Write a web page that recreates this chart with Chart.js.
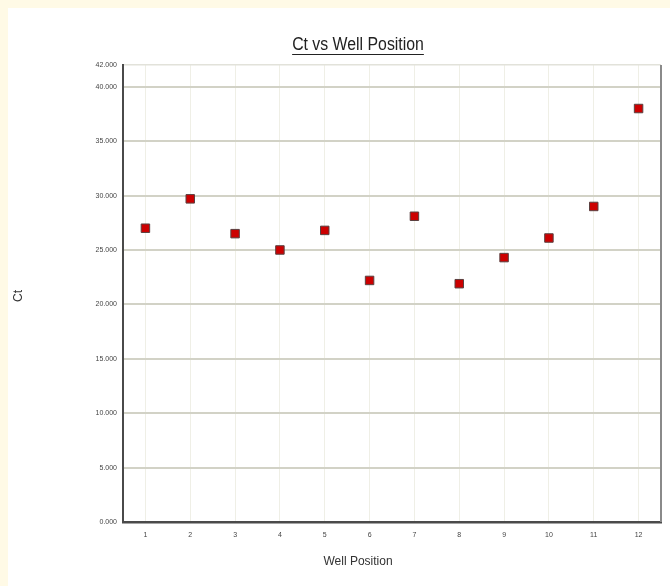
<!DOCTYPE html>
<html><head><meta charset="utf-8">
<script src="https://cdn.jsdelivr.net/npm/chart.js@4.4.0/dist/chart.umd.min.js"></script>
<style>
html,body{margin:0;padding:0;background:#fffae6;}
canvas{display:block;}
</style></head><body>
<canvas id="c" width="670" height="586"></canvas>
<script>
const wellPositions = [1,2,3,4,5,6,7,8,9,10,11,12];
const ctValues = [27.0,29.7,26.5,25.0,26.8,22.2,28.1,21.9,24.3,26.1,29.0,38.0];
const yTickValues = [0,5,10,15,20,25,30,35,40,42];
const chartTitle = 'Ct vs Well Position';
const xTitle = 'Well Position';
const yTitle = 'Ct';

const FONT = '"Liberation Sans", Arial, sans-serif';

const decor = {
  id: 'decor',
  beforeDraw(chart) {
    const ctx = chart.ctx;
    ctx.save();
    ctx.fillStyle = '#fffae6';
    ctx.fillRect(0, 0, chart.width, chart.height);
    ctx.fillStyle = '#ffffff';
    ctx.fillRect(8, 8, chart.width - 8, chart.height - 8);
    ctx.restore();
  },
  afterDraw(chart) {
    const ctx = chart.ctx;
    const a = chart.chartArea;
    ctx.save();
    // right border
    ctx.strokeStyle = '#8a8a8a';
    ctx.lineWidth = 2;
    ctx.beginPath();
    ctx.moveTo(a.right, a.top);
    ctx.lineTo(a.right, a.bottom);
    ctx.stroke();
    // title
    const cx = 358;
    ctx.fillStyle = '#222';
    ctx.textAlign = 'center';
    ctx.textBaseline = 'middle';
    ctx.save();
    ctx.translate(cx, 45);
    ctx.scale(0.88, 1);
    ctx.font = '18px ' + FONT;
    const w = ctx.measureText(chartTitle).width * 0.88;
    ctx.fillText(chartTitle, 0, 0);
    ctx.restore();
    ctx.strokeStyle = '#222';
    ctx.lineWidth = 1.2;
    ctx.beginPath();
    ctx.moveTo(cx - w / 2, 54.5);
    ctx.lineTo(cx + w / 2, 54.5);
    ctx.stroke();
    // x title
    ctx.font = '12px ' + FONT;
    ctx.fillStyle = '#333';
    ctx.fillText(xTitle, 358, 562);
    // y title
    ctx.save();
    ctx.translate(19, 296);
    ctx.rotate(-Math.PI / 2);
    ctx.fillText(yTitle, 0, 0);
    ctx.restore();
    ctx.restore();
  }
};

new Chart(document.getElementById('c'), {
  type: 'scatter',
  data: {
    datasets: [{
      data: wellPositions.map((x, i) => ({ x: x, y: ctValues[i] })),
      pointStyle: 'rect',
      pointRadius: 6,
      pointHoverRadius: 6,
      backgroundColor: '#cc0000',
      borderColor: '#5a4040',
      borderWidth: 1,
      showLine: false
    }]
  },
  options: {
    responsive: false,
    animation: false,
    events: [],
    layout: { padding: { left: 8, right: 9, top: 65, bottom: 8 } },
    plugins: { legend: { display: false }, tooltip: { enabled: false }, title: { display: false } },
    scales: {
      x: {
        type: 'linear',
        min: 0.5,
        max: 12.5,
        afterBuildTicks(scale) { scale.ticks = wellPositions.map(v => ({ value: v })); },
        afterFit(scale) { scale.height = 56; },
        ticks: {
          autoSkip: false,
          maxRotation: 0,
          padding: 9,
          color: '#444',
          font: { size: 7, family: FONT },
          callback: v => String(v)
        },
        grid: { color: '#efefe6', lineWidth: 1, drawTicks: false },
        border: { color: '#4a4a4a', width: 2.5 }
      },
      y: {
        min: 0,
        max: 42,
        afterBuildTicks(scale) { scale.ticks = yTickValues.map(v => ({ value: v })); },
        afterFit(scale) { scale.width = 115; },
        ticks: {
          autoSkip: false,
          padding: 6,
          color: '#444',
          font: { size: 7, family: FONT },
          callback: v => Number(v).toFixed(3)
        },
        grid: {
          color: c => (c.tick && c.tick.value === 42) ? '#e2e2da' : '#d2d2c6',
          lineWidth: c => (c.tick && c.tick.value === 42) ? 1.5 : 2,
          drawTicks: false
        },
        border: { color: '#4a4a4a', width: 2 }
      }
    }
  },
  plugins: [decor]
});
</script>
</body></html>
